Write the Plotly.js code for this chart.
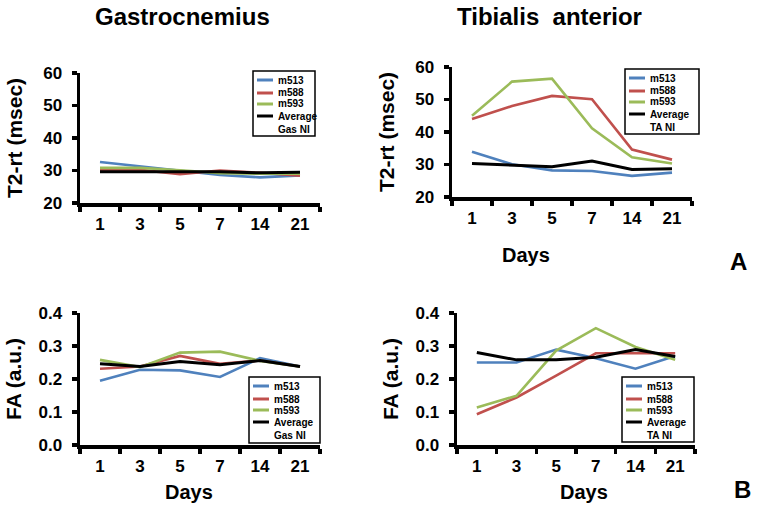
<!DOCTYPE html>
<html><head><meta charset="utf-8">
<script src="https://cdn.plot.ly/plotly-3.0.1.min.js"></script>
<style>html,body{margin:0;padding:0;background:#fff}#chart{width:758px;height:505px}</style>
</head><body><div id="chart"></div>
<script>
// ---- data ----
const days = ['1', '3', '5', '7', '14', '21'];
const seriesNames = ['m513', 'm588', 'm593'];
const gasAvgName = 'Average<br>Gas NI';
const taAvgName = 'Average<br>TA NI';
const panelTitles = ['Gastrocnemius', 'Tibialis  anterior'];
const t2Title = 'T2-rt (msec)';
const faTitle = 'FA (a.u.)';
const xTitle = 'Days';
const panelLabels = ['A', 'B'];
const t2Ticks = [20, 30, 40, 50, 60];
const faTicks = [0, 0.1, 0.2, 0.3, 0.4];

const gasT2_m513 = [32.6, 31.2, 29.8, 28.6, 27.9, 28.5];
const gasT2_m588 = [30.2, 30.2, 28.9, 30.0, 29.3, 28.4];
const gasT2_m593 = [30.8, 30.8, 30.1, 29.2, 29.0, 29.0];
const gasT2_avg  = [29.6, 29.6, 29.8, 29.6, 29.3, 29.5];

const taT2_m513 = [33.9, 30.1, 28.2, 28.0, 26.5, 27.5];
const taT2_m588 = [44.0, 48.0, 51.1, 50.1, 34.6, 31.5];
const taT2_m593 = [45.0, 55.5, 56.4, 41.1, 32.2, 30.3];
const taT2_avg  = [30.3, 29.8, 29.3, 31.1, 28.5, 28.7];

const gasFA_m513 = [0.195, 0.228, 0.226, 0.206, 0.263, 0.238];
const gasFA_m588 = [0.231, 0.238, 0.270, 0.246, 0.256, 0.238];
const gasFA_m593 = [0.258, 0.236, 0.280, 0.283, 0.255, 0.238];
const gasFA_avg  = [0.246, 0.238, 0.253, 0.243, 0.256, 0.238];

const taFA_m513 = [0.250, 0.250, 0.289, 0.263, 0.231, 0.270];
const taFA_m588 = [0.093, 0.144, 0.210, 0.278, 0.278, 0.278];
const taFA_m593 = [0.114, 0.149, 0.286, 0.354, 0.297, 0.258];
const taFA_avg  = [0.280, 0.258, 0.258, 0.266, 0.289, 0.268];

// ---- styling ----
const colors = ['#4F81BD', '#C0504D', '#9BBB59', '#000000'];
const FONT = 'Liberation Sans, Arial, Helvetica, sans-serif';
const W = 758, H = 505;
const px = x => x / W;
const py = y => 1 - y / H;

const panels = [
  {xa: 'x',  ya: 'y',  series: [gasT2_m513, gasT2_m588, gasT2_m593, gasT2_avg], avg: gasAvgName},
  {xa: 'x2', ya: 'y2', series: [taT2_m513, taT2_m588, taT2_m593, taT2_avg], avg: taAvgName},
  {xa: 'x3', ya: 'y3', series: [gasFA_m513, gasFA_m588, gasFA_m593, gasFA_avg], avg: gasAvgName},
  {xa: 'x4', ya: 'y4', series: [taFA_m513, taFA_m588, taFA_m593, taFA_avg], avg: taAvgName}
];

const traces = [];
panels.forEach(p => {
  const names = seriesNames.concat([p.avg]);
  p.series.forEach((vals, i) => {
    traces.push({
      type: 'scatter', mode: 'lines', x: days, y: vals,
      name: names[i].replace('<br>', ' '), xaxis: p.xa, yaxis: p.ya,
      line: {color: colors[i], width: i === 3 ? 3 : 2.6},
      showlegend: false, hoverinfo: 'x+y+name'
    });
  });
});

const tickFont = {family: FONT, size: 17, color: '#000', weight: 'bold'};
function xAxis(x0, x1, y0, y1, anchor) {
  return {
    domain: [px(x0), px(x1)], anchor: anchor,
    type: 'category', categoryorder: 'array', categoryarray: days,
    range: [-0.5, 5.5], showline: true, linecolor: '#000', linewidth: 3.5,
    ticks: 'outside', ticklen: 5, tickwidth: 3.5, tickcolor: '#000',
    tickson: 'boundaries', showgrid: false, zeroline: false,
    tickfont: tickFont, ticklabelstandoff: 3, fixedrange: true
  };
}
function yAxis(y0, y1, anchor, range, ticks, fmt, title, standoff) {
  return {
    domain: [py(y1), py(y0)], anchor: anchor, range: range,
    tickvals: ticks, tickformat: fmt, showline: true, linecolor: '#000', linewidth: 3.5,
    ticks: 'outside', ticklen: 5, tickwidth: 3.5, tickcolor: '#000',
    showgrid: false, zeroline: false, tickfont: tickFont, ticklabelstandoff: 6,
    fixedrange: true,
    title: {text: title, font: {family: FONT, size: 21, color: '#000', weight: 'bold'}, standoff: standoff}
  };
}

const layout = {
  width: W, height: H, margin: {l: 0, r: 0, t: 0, b: 0},
  paper_bgcolor: '#fff', plot_bgcolor: 'rgba(0,0,0,0)',
  showlegend: false,
  font: {family: FONT, color: '#000'},
  xaxis:  xAxis(80, 320, 73, 203, 'y'),
  yaxis:  yAxis(73, 203, 'x', [20, 60], t2Ticks, 'd', t2Title, 16),
  xaxis2: xAxis(452, 692, 67, 197, 'y2'),
  yaxis2: yAxis(67, 197, 'x2', [20, 60], t2Ticks, 'd', t2Title, 16),
  xaxis3: xAxis(80, 320, 313, 445, 'y3'),
  yaxis3: yAxis(313, 445, 'x3', [0, 0.4], faTicks, '.1f', faTitle, 12),
  xaxis4: xAxis(457, 695, 313, 445, 'y4'),
  yaxis4: yAxis(313, 445, 'x4', [0, 0.4], faTicks, '.1f', faTitle, 12),
  shapes: [], annotations: []
};

function ann(text, x, y, size, opts) {
  return Object.assign({
    text: text, xref: 'paper', yref: 'paper', x: px(x), y: py(y),
    xanchor: 'center', yanchor: 'middle', showarrow: false,
    font: {family: FONT, size: size, color: '#000', weight: 'bold'}
  }, opts || {});
}

// titles
layout.annotations.push(ann(panelTitles[0], 182, 16, 24));
layout.annotations.push(ann(panelTitles[1], 549, 16, 24));
// x-axis titles
layout.annotations.push(ann(xTitle, 526, 255, 20));
layout.annotations.push(ann(xTitle, 189, 492, 20));
layout.annotations.push(ann(xTitle, 584, 492, 20));
// panel letters
layout.annotations.push(ann(panelLabels[0], 738, 261, 24));
layout.annotations.push(ann(panelLabels[1], 742, 489, 24));

// legends (drawn as boxed keys)
const legendBoxes = [
  {x: 253, y: 71, w: 62, h: 65, avg: gasAvgName},
  {x: 625, y: 69, w: 74, h: 65, avg: taAvgName},
  {x: 249, y: 377, w: 71, h: 66, avg: gasAvgName},
  {x: 622, y: 377, w: 72, h: 65, avg: taAvgName}
];
const rowOffsets = [9, 22, 33, 45];
legendBoxes.forEach(b => {
  layout.shapes.push({type: 'rect', xref: 'paper', yref: 'paper',
    x0: px(b.x), x1: px(b.x + b.w), y0: py(b.y + b.h), y1: py(b.y),
    line: {color: '#000', width: 1.5}, fillcolor: '#fff', layer: 'above'});
  const names = seriesNames.concat([b.avg]);
  names.forEach((n, i) => {
    const ry = b.y + rowOffsets[i];
    layout.shapes.push({type: 'line', xref: 'paper', yref: 'paper',
      x0: px(b.x + 4), x1: px(b.x + 20), y0: py(ry), y1: py(ry),
      line: {color: colors[i], width: 3}, layer: 'above'});
    if (i < 3) {
      layout.annotations.push(ann(n, b.x + 23, ry, 10, {xanchor: 'left'}));
    } else {
      layout.annotations.push(ann(n, b.x + 23, ry - 7, 10, {xanchor: 'left', yanchor: 'top', align: 'left'}));
    }
  });
});

Plotly.newPlot('chart', traces, layout, {displayModeBar: false, staticPlot: true});
</script>
</body></html>
